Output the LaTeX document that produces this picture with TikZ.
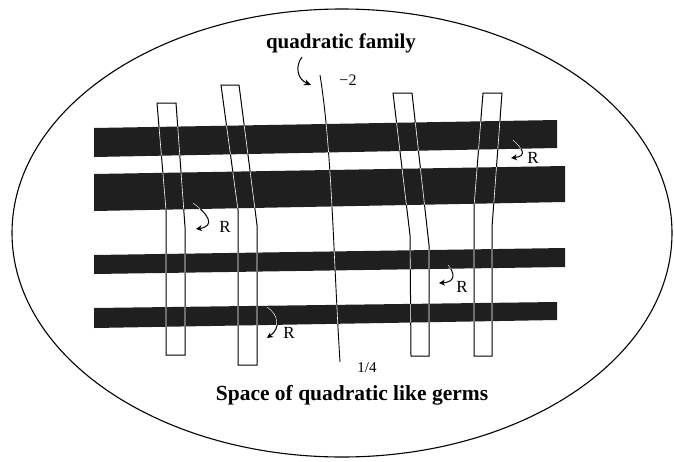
\documentclass[tikz,border=0pt]{standalone}
\usepackage{fontspec}
\setmainfont{Liberation Serif}
\usetikzlibrary{arrows.meta}
\tikzset{
  band/.style={fill=black!88, draw=none},
  stripbox/.style={fill=white, draw=black, line width=1pt, line join=miter},
  stripin/.style={draw=white, line width=0.6pt},
  squig/.style={draw=black, line width=1pt, -{Stealth[length=6pt,width=6pt]}},
  squigin/.style={draw=white, line width=0.5pt},
  bigb/.style={font=\fontsize{21}{24}\selectfont\bfseries, inner sep=0pt},
  numl/.style={font=\fontsize{15}{17}\selectfont, inner sep=0pt},
  rl/.style={font=\fontsize{17}{19}\selectfont, inner sep=0pt}
}
\begin{document}
\begin{tikzpicture}[x=1pt,y=-1pt]
\useasboundingbox (0,0) rectangle (674,461);
% outer ellipse
\draw[line width=1.1pt] (342,233) ellipse [x radius=330, y radius=224];
% strips
\def\stripA{(157,103) -- (176,103) -- (185,227) -- (185,355) -- (166,355) -- (166,210) -- cycle}
\def\stripB{(221,85) -- (239,85) -- (257,225) -- (257,365) -- (238,365) -- (238,210) -- cycle}
\def\stripC{(393,93) -- (412,93) -- (429,245) -- (429,356) -- (411,356) -- (410,235) -- cycle}
\def\stripD{(483,93) -- (502,93) -- (492,227) -- (492,356) -- (474,356) -- (474,207) -- cycle}
\path[stripbox] \stripA;
\path[stripbox] \stripB;
\path[stripbox] \stripC;
\path[stripbox] \stripD;
% quadratic family line
\coordinate (ftop) at (320,75);
\coordinate (fbot) at (340,362);
\def\famline{(ftop) .. controls (332,150) and (333,250) .. (fbot)}
\draw[line width=0.9pt] \famline;
% bands
\def\bandA{(94,128) -- (557,120) -- (557,148) -- (94,157) -- cycle}
\def\bandB{(94,174) -- (565,166) -- (565,202) -- (94,211) -- cycle}
\def\bandC{(94,255) -- (565,248) -- (565,267) -- (94,274) -- cycle}
\def\bandD{(94,308) -- (557,302) -- (557,320) -- (94,328) -- cycle}
\path[band] \bandA;
\path[band] \bandB;
\path[band] \bandC;
\path[band] \bandD;
% R arrows
\coordinate (r1s) at (513,140); \coordinate (r1e) at (511,158);
\coordinate (r2s) at (193,203); \coordinate (r2e) at (196,229);
\coordinate (r3s) at (448,265); \coordinate (r3e) at (439,283);
\coordinate (r4s) at (267,307); \coordinate (r4e) at (267,338);
\def\arrA{(r1s) .. controls (522,148) and (528,156) .. (r1e)}
\def\arrB{(r2s) .. controls (208,214) and (216,226) .. (r2e)}
\def\arrC{(r3s) .. controls (454,272) and (457,282) .. (r3e)}
\def\arrD{(r4s) .. controls (279,315) and (281,328) .. (r4e)}
\draw[squig] \arrA;
\draw[squig] \arrB;
\draw[squig] \arrC;
\draw[squig] \arrD;
% light lines where things cross the bands
\begin{scope}
\clip \bandA \bandB \bandC \bandD;
\draw[stripin] \stripA;
\draw[stripin] \stripB;
\draw[stripin] \stripC;
\draw[stripin] \stripD;
\draw[stripin] \famline;
\draw[squigin] \arrA;
\draw[squigin] \arrB;
\draw[squigin] \arrC;
\draw[squigin] \arrD;
\end{scope}
% labels
\node[bigb] (qf) at (341,43) {quadratic family};
\node[numl, font=\fontsize{16}{18}\selectfont] (m2) at (348,80) {−2};
\node[numl] (q14) at (367,368) {1/4};
\node[bigb, font=\fontsize{21.5}{24}\selectfont\bfseries] (sp) at (352,395) {Space of quadratic like germs};
\coordinate (qa) at (302,57);
\coordinate (qb) at (311,85);
\draw[squig, -{Stealth[length=7pt,width=6pt]}] (qa) .. controls (295,66) and (297,79) .. (qb);
\node[rl] (R1) at (533,158) {R};
\node[rl] (R2) at (225,227) {R};
\node[rl] (R3) at (462,287) {R};
\node[rl] (R4) at (289,333) {R};
\end{tikzpicture}
\end{document}
